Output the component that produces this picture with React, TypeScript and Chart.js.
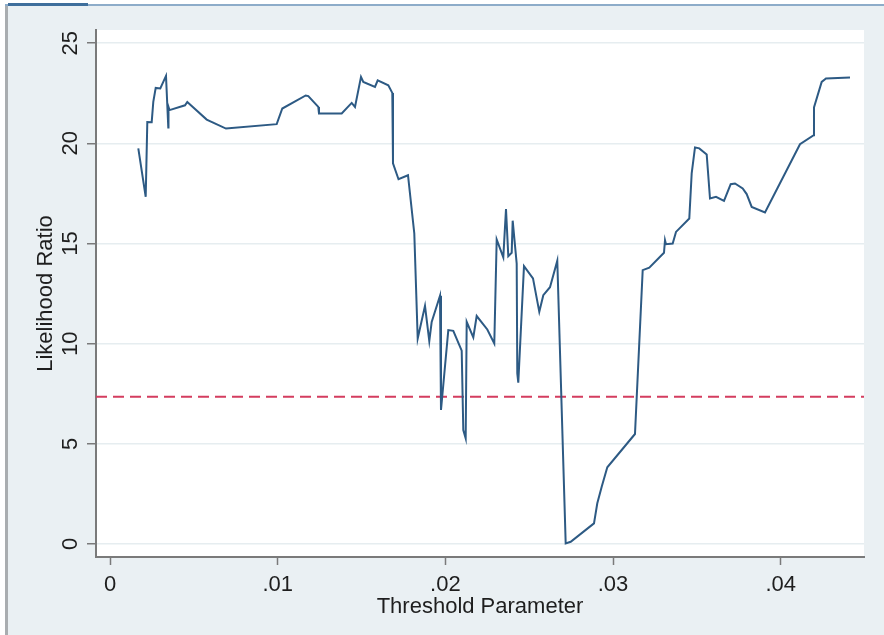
import React, { useEffect, useRef } from "react";
import { Chart, registerables } from "chart.js";

Chart.register(...registerables);

// Threshold parameter (x) and likelihood ratio (y)
const thresholdParam = [
  0.001688, 0.002129, 0.002225, 0.002487, 0.002582, 0.002726, 0.003, 0.00334, 0.003477, 0.003489,
  0.003549, 0.004473, 0.00461, 0.005767, 0.006918, 0.009942, 0.010276, 0.011672, 0.011827, 0.012423,
  0.012465, 0.013819, 0.014415, 0.014612, 0.01497, 0.015107, 0.015805, 0.015966, 0.016598, 0.016837,
  0.016878, 0.017207, 0.017773, 0.018149, 0.018352, 0.018787, 0.019043, 0.019186, 0.019682, 0.019741,
  0.020177, 0.020475, 0.020976, 0.021071, 0.021214, 0.021274, 0.021668, 0.02187, 0.022503, 0.02292,
  0.023063, 0.023457, 0.023618, 0.023755, 0.023958, 0.024017, 0.024256, 0.024292, 0.024351, 0.024691,
  0.025228, 0.025604, 0.025843, 0.026242, 0.026677, 0.027178, 0.027477, 0.028866, 0.029063, 0.029326,
  0.02966, 0.031311, 0.031771, 0.032164, 0.033041, 0.033101, 0.03316, 0.03356, 0.033757, 0.03455,
  0.034693, 0.03489, 0.035146, 0.035588, 0.035785, 0.036143, 0.03662, 0.037019, 0.037276, 0.037735,
  0.037973, 0.038272, 0.039065, 0.041152, 0.04197, 0.041987, 0.042446, 0.042703, 0.044134,
];

const likelihoodRatio = [
  19.75, 17.33, 21.07, 21.06, 22.07, 22.77, 22.74, 23.37, 20.79, 21.82,
  21.66, 21.9, 22.07, 21.19, 20.74, 20.96, 21.74, 22.39, 22.36, 21.82,
  21.49, 21.49, 22.02, 21.82, 23.32, 23.07, 22.82, 23.15, 22.9, 22.52,
  19.0, 18.21, 18.41, 15.5, 10.26, 11.89, 10.13, 11.09, 12.39, 6.69,
  10.68, 10.64, 9.65, 5.69, 5.27, 11.09, 10.31, 11.38, 10.71, 10.01,
  15.2, 14.31, 16.72, 14.37, 14.54, 16.14, 14.0, 8.52, 8.05, 13.87,
  13.26, 11.59, 12.42, 12.82, 14.14, 0.03, 0.11, 1.03, 2.03, 2.86,
  3.83, 5.49, 13.67, 13.79, 14.54, 15.17, 14.97, 15.0, 15.58, 16.25,
  18.5, 19.8, 19.75, 19.45, 17.25, 17.33, 17.13, 17.96, 18.0, 17.75,
  17.47, 16.83, 16.55, 19.96, 20.41, 21.79, 23.07, 23.24, 23.29,
];

const criticalValue = 7.35;

const xRange = [-0.000835, 0.04497];
const yRange = [-0.65, 25.66];

const xTickValues = [0, 0.01, 0.02, 0.03, 0.04];
const xTickLabels = ["0", ".01", ".02", ".03", ".04"];
const yTickValues = [0, 5, 10, 15, 20, 25];
const yTickLabels = ["0", "5", "10", "15", "20", "25"];

const xTitle = "Threshold Parameter";
const yTitle = "Likelihood Ratio";

const FONT = "'Liberation Sans', Arial, Helvetica, sans-serif";
const TEXT = "#1e1e1e";
const AXIS = "#7a7a7a";
const GRID = "#e6edf0";

const plotBackground = {
  id: "plotBackground",
  beforeDraw(chart: any) {
    const { ctx, chartArea } = chart;
    if (!chartArea) return;
    ctx.save();
    ctx.fillStyle = "#ffffff";
    ctx.fillRect(chartArea.left, chartArea.top, chartArea.right - chartArea.left, chartArea.bottom - chartArea.top);
    ctx.restore();
  },
};

export default function App() {
  const canvasRef = useRef<HTMLCanvasElement | null>(null);

  useEffect(() => {
    if (!canvasRef.current) return;
    const mainData = thresholdParam.map((x, i) => ({ x, y: likelihoodRatio[i] }));
    const critData = [
      { x: xRange[0], y: criticalValue },
      { x: xRange[1], y: criticalValue },
    ];
    const chart = new Chart(canvasRef.current, {
      type: "scatter",
      data: {
        datasets: [
          {
            label: "LR",
            data: mainData,
            showLine: true,
            borderColor: "#2d5a84",
            borderWidth: 2,
            pointRadius: 0,
            pointHoverRadius: 0,
            tension: 0,
          },
          {
            label: "critical",
            data: critData,
            showLine: true,
            borderColor: "#d43d5f",
            borderWidth: 2,
            borderDash: [11, 6],
            pointRadius: 0,
            pointHoverRadius: 0,
          },
        ],
      },
      options: {
        responsive: false,
        animation: false,
        devicePixelRatio: 1,
        layout: { padding: { left: 0, top: 30, right: 20, bottom: 0 } },
        plugins: {
          legend: { display: false },
          tooltip: { enabled: false },
          title: { display: false },
        },
        scales: {
          x: {
            type: "linear",
            min: xRange[0],
            max: xRange[1],
            afterBuildTicks: (scale: any) => {
              scale.ticks = xTickValues.map((v) => ({ value: v }));
            },
            afterFit: (scale: any) => {
              scale.height = 78;
            },
            ticks: {
              callback: (_v: any, i: number) => xTickLabels[i],
              font: { family: FONT, size: 22 },
              color: TEXT,
              padding: 7,
              maxRotation: 0,
              minRotation: 0,
            },
            grid: {
              drawOnChartArea: false,
              drawTicks: true,
              tickLength: 8,
              tickColor: AXIS,
              tickWidth: 1.5,
            },
            border: { display: true, color: AXIS, width: 2 },
            title: {
              display: true,
              text: xTitle,
              font: { family: FONT, size: 22 },
              color: TEXT,
              padding: { top: 0, bottom: 15 },
            },
          },
          y: {
            type: "linear",
            min: yRange[0],
            max: yRange[1],
            afterBuildTicks: (scale: any) => {
              scale.ticks = yTickValues.map((v) => ({ value: v }));
            },
            afterFit: (scale: any) => {
              scale.width = 96;
            },
            ticks: {
              callback: (_v: any, i: number) => yTickLabels[i],
              font: { family: FONT, size: 22 },
              color: TEXT,
              padding: 4,
              minRotation: 90,
              maxRotation: 90,
              crossAlign: "center",
            },
            grid: {
              drawOnChartArea: true,
              color: GRID,
              lineWidth: 1.5,
              drawTicks: true,
              tickLength: 9,
              tickColor: AXIS,
              tickWidth: 1.5,
            },
            border: { display: true, color: AXIS, width: 2 },
            title: {
              display: true,
              text: yTitle,
              font: { family: FONT, size: 22 },
              color: TEXT,
              padding: { top: 33, bottom: 0 },
            },
          },
        },
      } as any,
      plugins: [plotBackground],
    });
    return () => chart.destroy();
  }, []);

  return (
    <div style={{ position: "absolute", left: 0, top: 0, width: 884, height: 635, background: "#ffffff", overflow: "hidden" }}>
      <div style={{ position: "absolute", left: 8, top: 6, width: 876, height: 629, background: "#eaf0f3" }} />
      <div style={{ position: "absolute", left: 5, top: 4, width: 879, height: 2, background: "#8dacc9" }} />
      <div style={{ position: "absolute", left: 8, top: 3, width: 80, height: 3, background: "#3f6f9c" }} />
      <div style={{ position: "absolute", left: 5, top: 6, width: 3, height: 629, background: "#a9adb0" }} />
      <canvas ref={canvasRef} width={884} height={635} style={{ position: "absolute", left: 0, top: 0, width: 884, height: 635 }} />
    </div>
  );
}
